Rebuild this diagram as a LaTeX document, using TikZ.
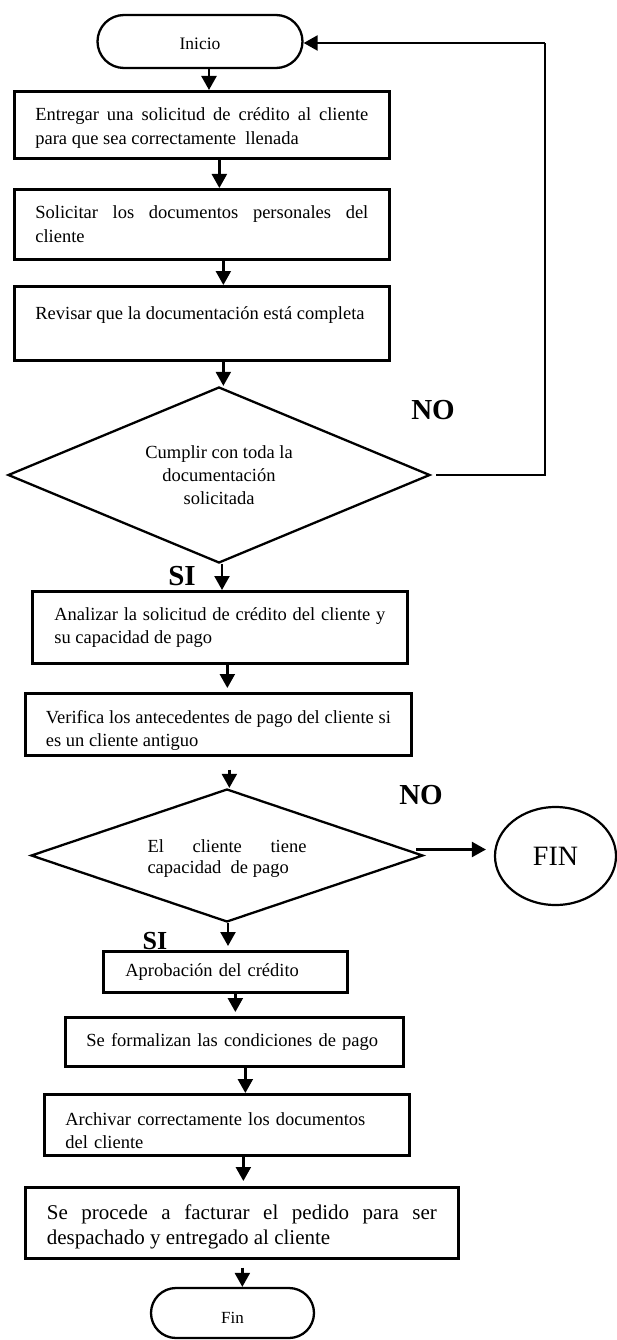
\documentclass[tikz,border=0pt]{standalone}
\usepackage{fontspec}
\setmainfont{Liberation Serif}
\usetikzlibrary{shapes.geometric,shapes.misc,arrows.meta,calc}
\tikzset{
  base/.style={font=\fontsize{18.5pt}{23.5pt}\selectfont},
  box/.style={draw, line width=2.7pt, rectangle, inner sep=0pt, anchor=north west, base, align=justify},
  term/.style={draw, line width=2.3pt, rounded rectangle, inner sep=0pt},
  dec/.style={draw, line width=2.3pt, diamond, aspect=2.4, inner sep=0pt, base},
  arr/.style={line width=2.3pt, -{Triangle[width=15pt,length=14pt]}},
  lbl/.style={font=\fontsize{29pt}{29pt}\selectfont\bfseries, inner sep=0pt},
  thinline/.style={line width=1.3pt},
}
\begin{document}
\begin{tikzpicture}[x=1pt,y=-1pt]
\fill[white] (0,0) rectangle (617,1340);
\useasboundingbox (0,0) rectangle (617,1340);

\node[term, minimum width=205pt, minimum height=53pt, font=\fontsize{17.5pt}{17.5pt}\selectfont] (ini) at (200,41.5)
  {\raisebox{-8.5pt}[0pt][0pt]{Inicio}};

\node[box, minimum width=375pt, minimum height=67pt, text width=333pt] (b1) at (13,90)
  {\rule{0pt}{19pt}Entregar una solicitud de crédito al cliente\linebreak para que sea correctamente~ llenada};
\node[box, minimum width=375pt, minimum height=70pt, text width=333pt] (b2) at (13,188)
  {Solicitar los documentos personales del\linebreak cliente};
\node[box, minimum width=375pt, minimum height=74pt, text width=333pt] (b3) at (13,285)
  {Revisar que la documentación está completa\rule[-21pt]{0pt}{21pt}};

\node[dec, minimum width=422pt, minimum height=176pt, align=center,
  font=\fontsize{18.5pt}{23pt}\selectfont] (d1) at (219,475)
  {Cumplir con toda la\\documentación\\solicitada};

\node[box, minimum width=375pt, minimum height=72pt, text width=331pt] (b4) at (31,590)
  {Analizar la solicitud de crédito del cliente y\linebreak su capacidad de pago};
\node[box, minimum width=386pt, minimum height=62pt, text width=345pt] (b5) at (24,692)
  {\rule{0pt}{25.5pt}Verifica los antecedentes de pago del cliente si\linebreak es un cliente antiguo};

\node[dec, minimum width=392pt, minimum height=133pt, text width=159pt, align=justify,
  font=\fontsize{18.5pt}{21pt}\selectfont] (d2) at (227,855.5)
  {\rule{0pt}{18pt}El cliente tiene\linebreak capacidad~ de pago};

\node[draw, ellipse, line width=2.2pt, minimum width=121pt, minimum height=98pt, inner sep=0pt,
  font=\fontsize{28pt}{28pt}\selectfont] (fin) at (555.5,856) {FIN};

\node[box, minimum width=244pt, minimum height=41pt, text width=200pt, align=left] (b6) at (102,950)
  {Aprobación del crédito};
\node[box, minimum width=338pt, minimum height=49pt, text width=296pt, align=left] (b7) at (64,1016)
  {Se formalizan las condiciones de pago};
\node[box, minimum width=365pt, minimum height=61pt, text width=323pt, align=left] (b8) at (43,1093)
  {\rule{0pt}{24.5pt}Archivar correctamente los documentos\\del cliente};
\node[box, minimum width=433pt, minimum height=71pt, text width=390pt,
  font=\fontsize{21pt}{25pt}\selectfont] (b9) at (24,1186)
  {\rule{0pt}{22.3pt}Se procede a facturar el pedido para ser\linebreak despachado y entregado al cliente};

\node[term, minimum width=163pt, minimum height=50pt, font=\fontsize{17pt}{17pt}\selectfont] (end) at (232.5,1313)
  {\raisebox{-10pt}[0pt][0pt]{Fin}};

% labels
\node[lbl] (no1) at (433,410) {NO};
\node[lbl] (si1) at (182,576) {SI};
\node[lbl] (no2) at (421,795) {NO};
\node[lbl, font=\fontsize{26pt}{26pt}\selectfont\bfseries] (si2) at (155,941) {SI};

% connectors
\draw[arr] ([xshift=9pt]ini.south) -- ([xshift=9pt]ini.south |- b1.north);
\draw[arr] ([xshift=17.5pt]b1.south) -- ([xshift=17.5pt]b1.south |- b2.north);
\draw[arr] ([xshift=21.5pt]b2.south) -- ([xshift=21.5pt]b2.south |- b3.north);
\draw[arr] ([xshift=21.5pt]b3.south) -- ([xshift=21.5pt]b3.south |- d1.north);
\draw[arr] ([xshift=3pt]d1.south) -- ([xshift=3pt]d1.south |- b4.north);
\draw[arr, shorten >=4pt] ([xshift=7.5pt]b4.south) -- ([xshift=7.5pt]b4.south |- b5.north);
\draw[arr, shorten <=13pt] ([xshift=11pt]b5.south) -- ([xshift=11pt]b5.south |- d2.north);
\draw[arr, shorten >=4pt] ([xshift=1pt]d2.south) -- ([xshift=1pt]d2.south |- b6.north);
\draw[arr, shorten >=4pt] ([xshift=10pt]b6.south) -- ([xshift=10pt]b6.south |- b7.north);
\draw[arr] ([xshift=11pt]b7.south) -- ([xshift=11pt]b7.south |- b8.north);
\draw[arr, shorten >=5pt] ([xshift=16.5pt]b8.south) -- ([xshift=16.5pt]b8.south |- b9.north);
\draw[arr, shorten <=8pt] ([xshift=0.5pt]b9.south) -- ([xshift=0.5pt]b9.south |- end.north);

\coordinate (lc) at (545,43);
\draw[thinline] ([xshift=5pt]d1.east) -| (lc);
\draw[arr] (lc) -- (lc -| ini.east);
\draw[arr] ([xshift=-8pt,yshift=6pt]d2.east) -- ([xshift=-8pt,yshift=6pt]d2.east -| fin.west);
\end{tikzpicture}
\end{document}
